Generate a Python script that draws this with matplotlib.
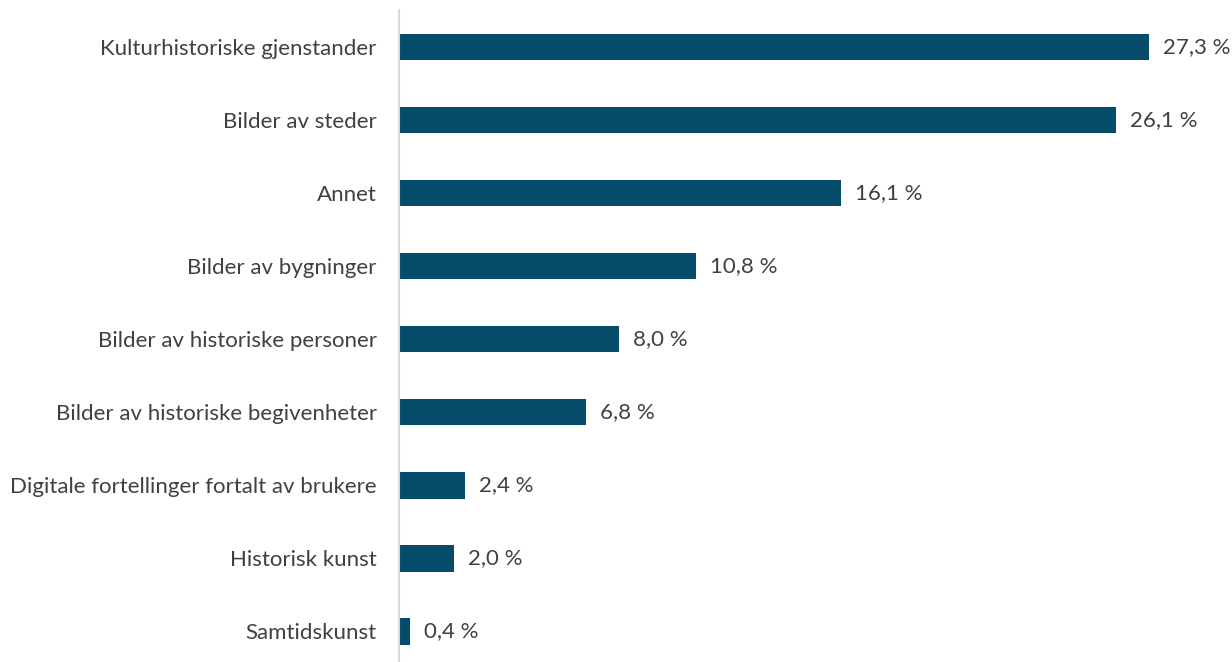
import matplotlib.pyplot as plt

categories = [
    'Kulturhistoriske gjenstander',
    'Bilder av steder',
    'Annet',
    'Bilder av bygninger',
    'Bilder av historiske personer',
    'Bilder av historiske begivenheter',
    'Digitale fortellinger fortalt av brukere',
    'Historisk kunst',
    'Samtidskunst',
]
values = [27.3, 26.1, 16.1, 10.8, 8.0, 6.8, 2.4, 2.0, 0.4]

bar_color = '#074B6B'
text_color = '#404040'

plt.rcParams['font.family'] = ['Lato', 'DejaVu Sans']

fig = plt.figure(figsize=(12.32, 6.62), dpi=100)
ax = fig.add_axes([0.3239, -0.0091, 0.6761, 0.9934])

y = list(range(len(categories)))
ax.barh(y, values, height=0.36, color=bar_color)

for yi, v in zip(y, values):
    label = f'{v:.1f}'.replace('.', ',') + ' %'
    ax.annotate(label, xy=(v, yi), xytext=(10, 0), textcoords='offset points',
                va='center', ha='left', fontsize=16, color=text_color)

ax.set_yticks(y)
ax.set_yticklabels(categories, fontsize=16, color=text_color)
ax.tick_params(axis='y', length=0, pad=16)
ax.set_xticks([])
ax.set_xlim(0, 30.32)
ax.set_ylim(len(categories) - 0.5, -0.5)

for side in ['top', 'right', 'bottom']:
    ax.spines[side].set_visible(False)
ax.spines['left'].set_color('#D9D9D9')
ax.spines['left'].set_linewidth(1.5)

fig.savefig('out.png', dpi=100)
